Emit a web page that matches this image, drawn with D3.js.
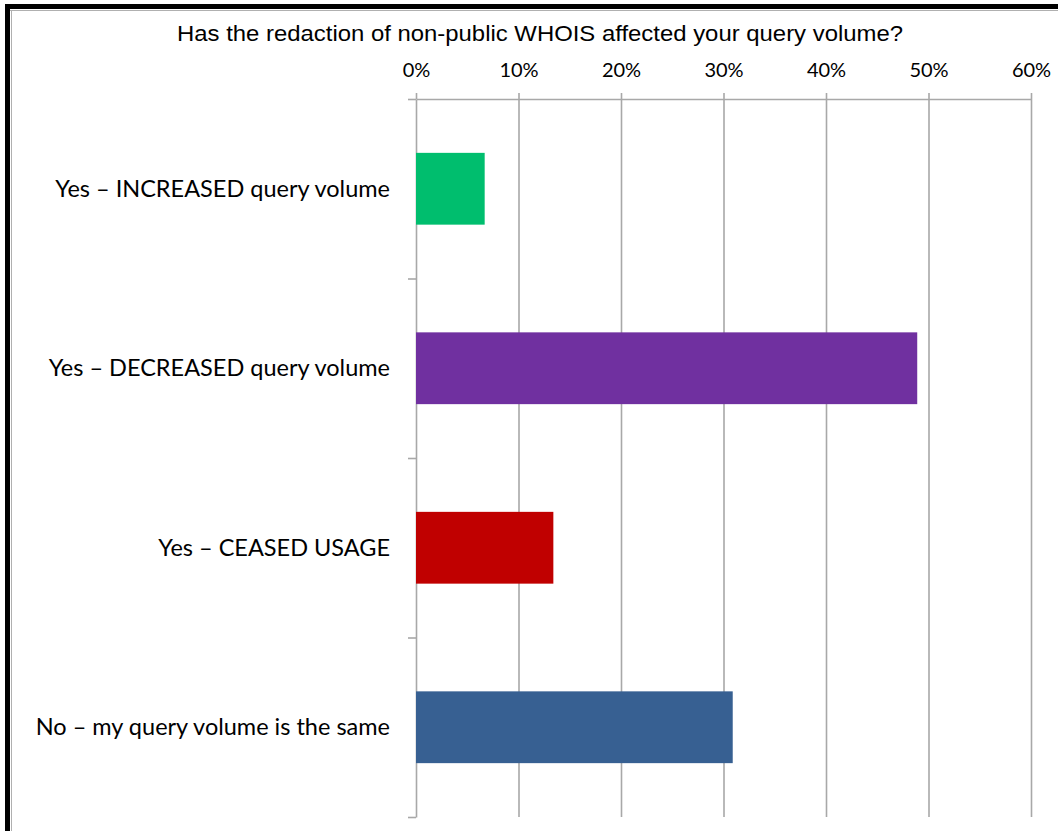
<!DOCTYPE html>
<html>
<head>
<meta charset="utf-8">
<script src="https://cdn.jsdelivr.net/npm/d3@7/dist/d3.min.js"></script>
<style>
  html, body { margin: 0; padding: 0; background: #fff; }
  svg { display: block; }
</style>
</head>
<body>
<svg id="chart" width="1058" height="831"></svg>
<script>
const title = "Has the redaction of non-public WHOIS affected your query volume?";
const categories = [
  "Yes \u2013 INCREASED query volume",
  "Yes \u2013 DECREASED query volume",
  "Yes \u2013 CEASED USAGE",
  "No \u2013 my query volume is the same"
];
const values = [0.067, 0.489, 0.134, 0.309];
const colors = ["#00BE6E", "#7030A0", "#C00000", "#376092"];
const tickValues = [0, 0.1, 0.2, 0.3, 0.4, 0.5, 0.6];

(function () {
const svg = d3.select("#chart");
const mLeft = 416, mRight = 1031, mTop = 99, mBottom = 817;

const x = d3.scaleLinear().domain([0, 0.6]).range([mLeft, mRight]);
const y = d3.scaleBand().domain(categories).range([mTop, mBottom]).paddingInner(0.6).paddingOuter(0.3);

// frame
svg.append("rect").attr("x", 5).attr("y", 4).attr("width", 1053).attr("height", 5).attr("fill", "#000");
svg.append("rect").attr("x", 5).attr("y", 4).attr("width", 5).attr("height", 827).attr("fill", "#000");
svg.append("line").attr("x1", 10).attr("x2", 1058).attr("y1", 10.5).attr("y2", 10.5).attr("stroke", "#b0b0b0").attr("stroke-width", 1);
svg.append("line").attr("x1", 11.5).attr("x2", 11.5).attr("y1", 10).attr("y2", 831).attr("stroke", "#b0b0b0").attr("stroke-width", 1);

// title
svg.append("text")
  .attr("x", 540).attr("y", 40.5)
  .attr("text-anchor", "middle")
  .attr("font-family", "Liberation Sans, Arial, sans-serif")
  .attr("font-size", 22.5)
  .attr("textLength", 726)
  .attr("lengthAdjust", "spacingAndGlyphs")
  .attr("fill", "#000")
  .text(title);

// gridlines
svg.append("g")
  .attr("transform", `translate(0,${mTop})`)
  .call(d3.axisBottom(x).tickValues(tickValues.filter(v => v > 0)).tickSize(mBottom - mTop).tickFormat(""))
  .call(g => g.select(".domain").remove())
  .call(g => g.selectAll("line").attr("stroke", "#a8a8a8").attr("stroke-width", 1.6));

// top axis
svg.append("g")
  .attr("transform", `translate(0,${mTop})`)
  .call(d3.axisTop(x).tickValues(tickValues).tickSizeInner(6).tickSizeOuter(0).tickPadding(16).tickFormat(d3.format(".0%")))
  .call(g => g.select(".domain").attr("stroke", "#a8a8a8").attr("stroke-width", 1.6))
  .call(g => g.selectAll("line").attr("stroke", "#a8a8a8").attr("stroke-width", 1.6))
  .call(g => g.selectAll("text").attr("font-family", "Lato, sans-serif").attr("font-size", 20).attr("fill", "#000"));

// left axis (band boundaries)
const yb = d3.scaleLinear().domain([0, categories.length]).range([mTop, mBottom]);
svg.append("g")
  .attr("transform", `translate(${mLeft},0)`)
  .call(d3.axisLeft(yb).ticks(categories.length).tickSizeInner(8).tickSizeOuter(0).tickFormat(""))
  .call(g => g.select(".domain").attr("stroke", "#a8a8a8").attr("stroke-width", 1.6))
  .call(g => g.selectAll("line").attr("stroke", "#a8a8a8").attr("stroke-width", 1.6));

// bars
svg.append("g").selectAll("rect")
  .data(categories)
  .join("rect")
  .attr("x", x(0))
  .attr("y", d => y(d))
  .attr("width", (d, i) => x(values[i]) - x(0))
  .attr("height", y.bandwidth())
  .attr("fill", (d, i) => colors[i]);

// category labels
svg.append("g").selectAll("text")
  .data(categories)
  .join("text")
  .attr("x", 390)
  .attr("y", d => y(d) + y.bandwidth() / 2 + 8)
  .attr("text-anchor", "end")
  .attr("font-family", "Lato, sans-serif")
  .attr("font-size", 23.5)
  .attr("fill", "#000")
  .text(d => d);
})();
</script>
</body>
</html>
